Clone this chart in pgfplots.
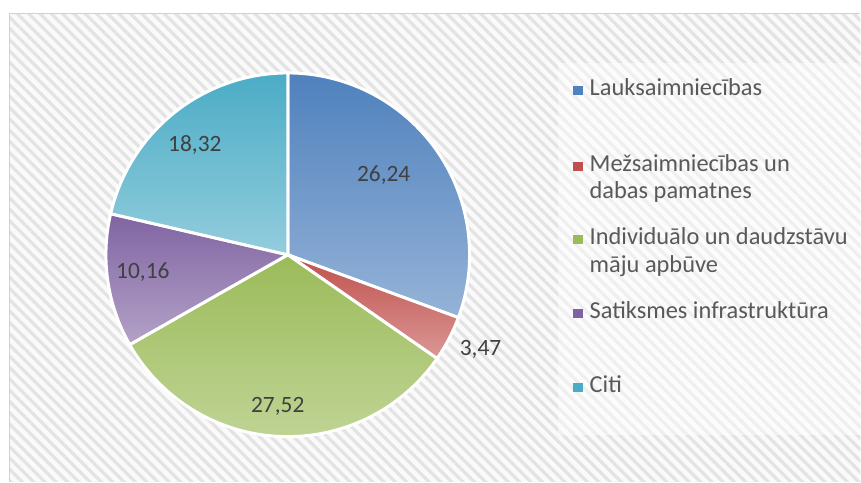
\documentclass[border=0pt]{standalone}
\usepackage{pgfplots}
\pgfplotsset{compat=1.18}
\usepackage{pgfplotstable}
\usepackage{fontspec}
\setmainfont{Carlito}
\usetikzlibrary{patterns.meta}

\definecolor{blueA}{HTML}{4F81BD}\definecolor{blueB}{HTML}{95B3D7}
\definecolor{redA}{HTML}{C0504D}\definecolor{redB}{HTML}{DA9896}
\definecolor{greenA}{HTML}{9BBB59}\definecolor{greenB}{HTML}{C4D79C}
\definecolor{purpA}{HTML}{8064A2}\definecolor{purpB}{HTML}{B3A2C7}
\definecolor{aquaA}{HTML}{4BACC6}\definecolor{aquaB}{HTML}{93CDDD}
\definecolor{labtxt}{HTML}{404040}
\definecolor{legtxt}{HTML}{595959}

% pie values, clockwise from 12 o'clock
\pgfplotstableread{
value
26.24
3.47
27.52
10.16
18.32
}\piedata

\begin{document}
\begin{tikzpicture}
% cumulative angles from the table
\pgfplotstablegetelem{0}{value}\of\piedata\let\vA\pgfplotsretval
\pgfplotstablegetelem{1}{value}\of\piedata\let\vB\pgfplotsretval
\pgfplotstablegetelem{2}{value}\of\piedata\let\vC\pgfplotsretval
\pgfplotstablegetelem{3}{value}\of\piedata\let\vD\pgfplotsretval
\pgfplotstablegetelem{4}{value}\of\piedata\let\vE\pgfplotsretval
\pgfmathsetmacro\tot{\vA+\vB+\vC+\vD+\vE}
\pgfmathsetmacro\aA{90}
\pgfmathsetmacro\aB{\aA-360*\vA/\tot}
\pgfmathsetmacro\aC{\aB-360*\vB/\tot}
\pgfmathsetmacro\aD{\aC-360*\vC/\tot}
\pgfmathsetmacro\aE{\aD-360*\vD/\tot}
\pgfmathsetmacro\aF{\aE-360*\vE/\tot}
\def\R{182bp}
\begin{axis}[
  scale only axis, width=861bp, height=482bp,
  xmin=0, xmax=861, ymin=0, ymax=482,
  hide axis, clip=false,
]
  % background
  \fill[white] (axis cs:0,0) rectangle (axis cs:861,482);
  \fill[black!2] (axis cs:9.5,0) rectangle (axis cs:861,468.5);
  \fill[pattern={Lines[angle=-45,distance=8bp,line width=3.2bp]}, pattern color=black!11]
    (axis cs:9.5,0) rectangle (axis cs:861,468.5);
  \fill[white, opacity=0.45] (axis cs:558,47) rectangle (axis cs:861,419);
  \draw[black!18, line width=1.5bp] (axis cs:9.5,0) -- (axis cs:9.5,468.5) -- (axis cs:861,468.5);

  % slices
  \draw[white, line width=3bp, top color=blueA, bottom color=blueB]
    (axis cs:288,227) -- ++(\aA:\R) arc[start angle=\aA, end angle=\aB, radius=\R] -- cycle;
  \draw[white, line width=3bp, top color=redA, bottom color=redB]
    (axis cs:288,227) -- ++(\aB:\R) arc[start angle=\aB, end angle=\aC, radius=\R] -- cycle;
  \draw[white, line width=3bp, top color=greenA, bottom color=greenB]
    (axis cs:288,227) -- ++(\aC:\R) arc[start angle=\aC, end angle=\aD, radius=\R] -- cycle;
  \draw[white, line width=3bp, top color=purpA, bottom color=purpB]
    (axis cs:288,227) -- ++(\aD:\R) arc[start angle=\aD, end angle=\aE, radius=\R] -- cycle;
  \draw[white, line width=3bp, top color=aquaA, bottom color=aquaB]
    (axis cs:288,227) -- ++(\aE:\R) arc[start angle=\aE, end angle=\aF, radius=\R] -- cycle;

  % data labels
  \begin{scope}[every node/.style={font=\fontsize{23.5}{28}\selectfont, text=labtxt, inner sep=0pt}]
    \node at (axis cs:384,307) {26,24};
    \node at (axis cs:481,132) {3,47};
    \node at (axis cs:278,75) {27,52};
    \node at (axis cs:143,210) {10,16};
    \node at (axis cs:195,337) {18,32};
  \end{scope}

  % legend
  \begin{scope}[every node/.style={font=\fontsize{24.5}{29}\selectfont, text=legtxt, inner sep=0pt, anchor=base west}]
    \fill[blueA]  (axis cs:573,387) rectangle (axis cs:583,396);
    \node at (axis cs:590,386) {Lauksaimniecības};
    \fill[redA]   (axis cs:573,311) rectangle (axis cs:583,320);
    \node at (axis cs:590,310.3) {Mežsaimniecības un};
    \node at (axis cs:590,283.7) {dabas pamatnes};
    \fill[greenA] (axis cs:573,238) rectangle (axis cs:583,247);
    \node at (axis cs:590,237) {Individuālo un daudzstāvu};
    \node at (axis cs:590,209) {māju apbūve};
    \fill[purpA]  (axis cs:573,164) rectangle (axis cs:583,173);
    \node at (axis cs:590,163) {Satiksmes infrastruktūra};
    \fill[aquaA]  (axis cs:573,90) rectangle (axis cs:583,99);
    \node at (axis cs:590,89) {Citi};
  \end{scope}
\end{axis}
\end{tikzpicture}
\end{document}
